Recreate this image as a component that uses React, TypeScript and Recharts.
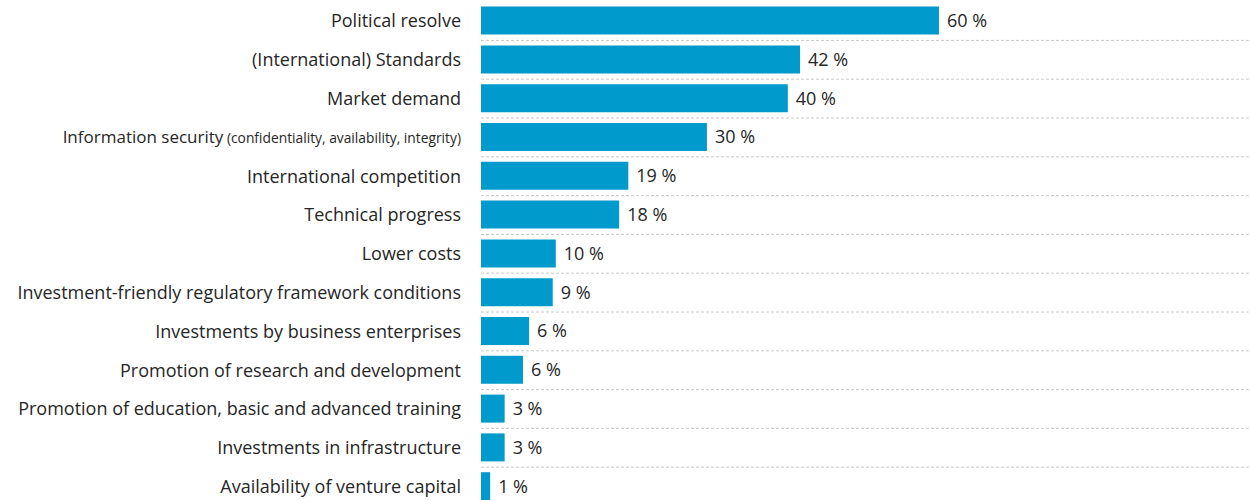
import React from 'react';
import { BarChart, Bar, XAxis, YAxis, ReferenceLine, LabelList } from 'recharts';

const categories = [
  'Political resolve',
  '(International) Standards',
  'Market demand',
  'Information security (confidentiality, availability, integrity)',
  'International competition',
  'Technical progress',
  'Lower costs',
  'Investment-friendly regulatory framework conditions',
  'Investments by business enterprises',
  'Promotion of research and development',
  'Promotion of education, basic and advanced training',
  'Investments in infrastructure',
  'Availability of venture capital',
];

// shares in percent (labels show them rounded)
const shares = [60, 41.8, 40.2, 29.6, 19.3, 18.1, 9.8, 9.4, 6.3, 5.5, 3.1, 3.1, 1.2];

const data = categories.map((name, i) => ({ name, value: shares[i] }));

const FONT = '"Open Sans", sans-serif';
const BAR_COLOR = '#009bcc';
const TEXT_COLOR = '#262626';

const CategoryTick = ({ x, y, payload }: any) => {
  const [main, note] = String(payload.value).split(' (');
  return (
    <text x={x} y={y} dy="0.35em" textAnchor="end" fill={TEXT_COLOR} fontSize={note ? 17 : 18} fontFamily={FONT}>
      {main}
      {note && <tspan fontSize={13.8}>{' (' + note}</tspan>}
    </text>
  );
};

const App: React.FC = () => {
  return (
    <div style={{ position: 'absolute', left: 0, top: 0, width: 1250, height: 500, overflow: 'hidden', background: '#fff' }}>
      <BarChart
        width={1250}
        height={506}
        data={data}
        layout="vertical"
        margin={{ top: 1.6, right: 0, bottom: 0, left: 0 }}
      >
        <XAxis type="number" domain={[0, 100.75]} hide />
        <YAxis
          type="category"
          dataKey="name"
          width={481}
          interval={0}
          axisLine={false}
          tickLine={false}
          tickSize={0}
          tickMargin={20}
          tick={<CategoryTick />}
        />
        {categories.slice(1).map((c) => (
          <ReferenceLine
            key={c}
            y={c}
            position="start"
            stroke="#c8c8c8"
            strokeDasharray="3 2"
            strokeWidth={1}
          />
        ))}
        <Bar dataKey="value" fill={BAR_COLOR} barSize={28} isAnimationActive={false}>
          <LabelList
            dataKey="value"
            position="right"
            offset={8}
            formatter={(v: any) => `${Math.round(Number(v))} %`}
            fill={TEXT_COLOR}
            fontSize={18}
            fontFamily={FONT}
          />
        </Bar>
      </BarChart>
    </div>
  );
};

export default App;
